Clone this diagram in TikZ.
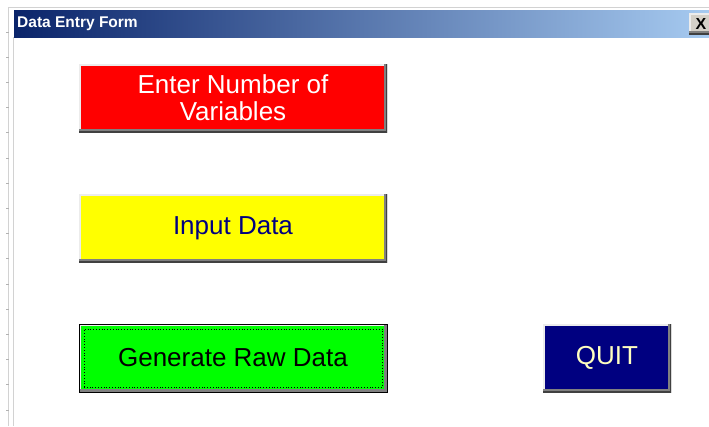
\documentclass[tikz,border=0pt]{standalone}
\usepackage{fontspec}
\setmainfont{Liberation Sans}
\usetikzlibrary{positioning}
\definecolor{titledark}{HTML}{0A246A}
\definecolor{titlelight}{HTML}{A6CAF0}
\definecolor{btnface}{HTML}{D4D0C8}
\definecolor{navyblue}{HTML}{000080}
\definecolor{paleyellow}{HTML}{FFFFC0}
\definecolor{edgegray}{HTML}{808080}
\definecolor{edgedark}{HTML}{404040}
\definecolor{pureyellow}{HTML}{FFFF00}
\definecolor{puregreen}{HTML}{00FF00}

\begin{document}
\begin{tikzpicture}[
    x=1pt, y=-1pt,
    node distance=62pt,
    every node/.style={font=\fontsize{26}{27}\selectfont},
    bevel/.style={path picture={
        \draw[white!85!gray, line width=3pt] (path picture bounding box.south west) |- (path picture bounding box.north east);
        \draw[edgegray, line width=6pt] (path picture bounding box.south west) -| (path picture bounding box.north east);
        \draw[edgedark, line width=2pt] (path picture bounding box.south west) -| (path picture bounding box.north east);
    }},
    button/.style={bevel, minimum width=308pt, minimum height=68pt, inner sep=0pt, outer sep=0pt, align=center},
    focus/.style={draw=black, line width=1pt, path picture={
        \draw[white!85!gray, line width=3pt] (path picture bounding box.south west) |- (path picture bounding box.north east);
        \draw[edgegray, line width=6pt] (path picture bounding box.south west) -| (path picture bounding box.north east);
        \draw[black, line width=0.8pt, dotted] ([xshift=5pt,yshift=5pt]path picture bounding box.south west) rectangle ([xshift=-5pt,yshift=-5pt]path picture bounding box.north east);
    }},
    titletext/.style={font=\fontsize{15.5}{15.5}\bfseries, text=white, inner sep=0pt, anchor=west},
    closebtn/.style={fill=btnface, bevel, minimum width=24pt, minimum height=21pt, inner sep=0pt, font=\fontsize{16}{16}\bfseries},
    frame/.style={draw=gray!35, line width=1pt},
    tick/.style={draw=gray!60, line width=0.8pt}
]
\fill[white] (0,0) rectangle (709,426);
\useasboundingbox (0,0) rectangle (709,426);

% window frame
\draw[frame] (8.5,426) -- (8.5,7.5) -- (709,7.5);
\draw[frame] (13.5,426) -- (13.5,37);
\foreach \k in {0,...,15}
    \draw[tick] (6,32+25.2*\k) -- (8.5,32+25.2*\k);

% title bar
\shade[left color=titledark, right color=titlelight] (14,10) rectangle (709,37);
\node[titletext] (title) at (17,23.5) {Data Entry Form};
\node[closebtn] (close) at (701,23.5) {X};

% buttons
\node[button, fill=red, text=white, anchor=north west] (enter) at (79,64) {Enter Number of\\Variables};
\node[button, fill=pureyellow, text=navyblue, below=of enter] (input) {Input Data};
\node[button, focus, fill=puregreen, text=black, below=of input] (generate) {Generate Raw Data};
\node[button, fill=navyblue, text=paleyellow, minimum width=128pt, right=156pt of generate] (quit) {QUIT};
\end{tikzpicture}
\end{document}
